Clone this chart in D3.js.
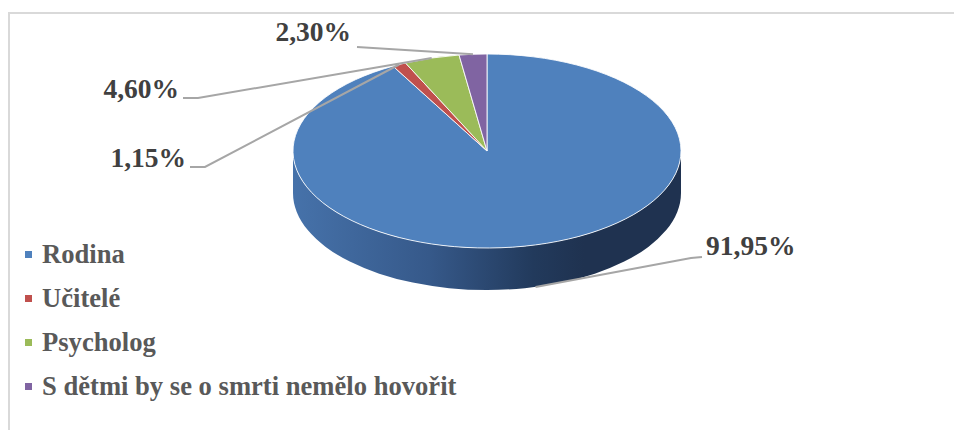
<!DOCTYPE html>
<html>
<head>
<meta charset="utf-8">
<script src="https://cdn.jsdelivr.net/npm/d3@7"></script>
<style>
  html, body { margin: 0; padding: 0; background: #ffffff; }
  svg { display: block; }
</style>
</head>
<body>
<script>
// ---- data ----
const categories = ["Rodina", "Učitelé", "Psycholog", "S dětmi by se o smrti nemělo hovořit"];
const values = [91.95, 1.15, 4.60, 2.30];
const colors = ["#4f81bd", "#c0504d", "#9bbb59", "#8064a2"];

// ---- layout ----
const W = 954, H = 430;
const cx = 487, cy = 151, rx = 194, ry = 97, depth = 42;
const fontFam = "'Liberation Serif', 'Times New Roman', serif";

// label anchors
const labelLayout = [
  { x: 706, y: 255, anchor: "start", pts: [[702, 257], [691, 258]], bottom: true },
  { x: 186, y: 167, anchor: "end",   pts: [[190, 167], [205, 167]] },
  { x: 179, y: 98,  anchor: "end",   pts: [[183, 98], [198, 98]] },
  { x: 351, y: 41,  anchor: "end",   pts: [[357, 47]] }
];

const svg = d3.select("body").append("svg")
  .attr("width", W).attr("height", H);

// chart frame
svg.append("path")
  .attr("d", `M9,${H} L9,13 L${W},13`)
  .attr("fill", "none").attr("stroke", "#d9d9d9").attr("stroke-width", 2);

const defs = svg.append("defs");
const grad = defs.append("linearGradient").attr("id", "side")
  .attr("gradientUnits", "userSpaceOnUse")
  .attr("x1", cx - rx).attr("x2", cx + rx).attr("y1", 0).attr("y2", 0);
grad.append("stop").attr("offset", "0%").attr("stop-color", "#4672aa");
grad.append("stop").attr("offset", "35%").attr("stop-color", "#36598a");
grad.append("stop").attr("offset", "62%").attr("stop-color", "#223a5c");
grad.append("stop").attr("offset", "75%").attr("stop-color", "#1f3250");
grad.append("stop").attr("offset", "100%").attr("stop-color", "#1f3250");

// pie
const pie = d3.pie().sort(null).value(d => d)
  .startAngle(0).endAngle(2 * Math.PI);
const arcsData = pie(values);
const arc = d3.arc().innerRadius(0).outerRadius(rx);

// side wall (front half, belongs to Rodina slice which spans the whole front)
svg.append("path")
  .attr("d", `M${cx + rx},${cy} A${rx},${ry} 0 0 1 ${cx - rx},${cy} L${cx - rx},${cy + depth} A${rx},${ry} 0 0 0 ${cx + rx},${cy + depth} Z`)
  .attr("fill", "url(#side)");

// top face
const topFace = svg.append("g")
  .attr("transform", `translate(${cx},${cy}) scale(1,${ry / rx})`);
topFace.selectAll("path.slice").data(arcsData).enter().append("path")
  .attr("class", "slice")
  .attr("d", arc)
  .attr("fill", (d, i) => colors[i])
  .attr("stroke", "#ffffff")
  .attr("stroke-width", 1)
  .attr("stroke-opacity", 0.85)
  .attr("vector-effect", "non-scaling-stroke");

// projected point on the ellipse for an angle (clockwise from 12 o'clock)
function proj(a, dy) {
  return [cx + rx * Math.sin(a), cy - ry * Math.cos(a) + (dy || 0)];
}

const fmt = v => d3.format(".2f")(v).replace(".", ",") + "%";

// leader lines
arcsData.forEach((d, i) => {
  const L = labelLayout[i];
  const mid = (d.startAngle + d.endAngle) / 2;
  const end = proj(mid, L.bottom ? depth : 0);
  const pts = L.pts.concat([end]);
  svg.append("path")
    .attr("d", d3.line()(pts))
    .attr("fill", "none")
    .attr("stroke", "#a6a6a6")
    .attr("stroke-width", 2);
});

// data labels
svg.selectAll("text.lbl").data(arcsData).enter().append("text")
  .attr("class", "lbl")
  .attr("x", (d, i) => labelLayout[i].x)
  .attr("y", (d, i) => labelLayout[i].y)
  .attr("text-anchor", (d, i) => labelLayout[i].anchor)
  .attr("font-family", fontFam)
  .attr("font-weight", "bold")
  .attr("font-size", 27.5)
  .attr("fill", "#404040")
  .text(d => fmt(d.value));

// legend
const legend = svg.append("g");
const rows = legend.selectAll("g").data(categories).enter().append("g")
  .attr("transform", (d, i) => `translate(25, ${263 + i * 44})`);
rows.append("rect")
  .attr("x", 0).attr("y", -12).attr("width", 7).attr("height", 7)
  .attr("fill", (d, i) => colors[i]);
rows.append("text")
  .attr("x", 17).attr("y", 0)
  .attr("font-family", fontFam)
  .attr("font-weight", "bold")
  .attr("font-size", 26.6)
  .attr("fill", "#595959")
  .text(d => d);
</script>
</body>
</html>
